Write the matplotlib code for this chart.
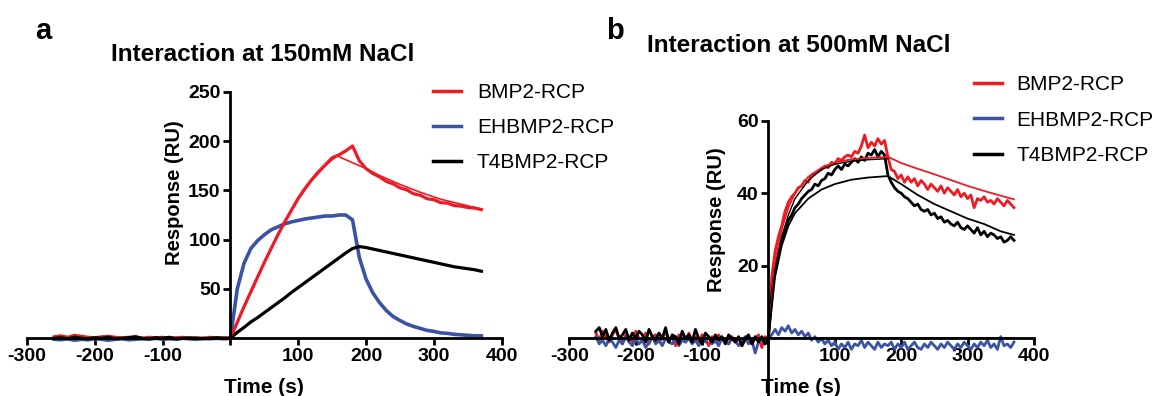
import numpy as np
import matplotlib
matplotlib.use('Agg')
from matplotlib import pyplot as plt

plt.rcParams['font.family'] = ['Liberation Sans', 'DejaVu Sans']

RED = '#ED1C24'
BLUE = '#3A53A4'
BLACK = '#000000'
names = ['BMP2-RCP', 'EHBMP2-RCP', 'T4BMP2-RCP']

# ---- panel a : 150 mM NaCl (10 s sampling) ----
ta = list(range(-260, 1, 10)) + list(range(10, 371, 10))
red_a = [1.5, 2.5, 1.0, 3.0, 2.0, 1.0, 0.5, 1.5, 2.0, 1.0,
         0.5, 1.0, 1.5, 0.0, 1.0, 0.5, 1.0, 0.0, 0.5, 1.0,
         -0.5, 0.5, 0.0, 1.0, 0.0, 0.5, 0.0,
         16, 32, 47, 62, 77, 91, 105, 118, 130, 142,
         152, 161, 169, 176, 183, 186, 190, 195, 180, 172,
         167, 163.5, 159, 156.5, 152.5, 150.5, 146.5, 145, 141.5, 140.5,
         137.5, 137, 134.5, 134, 132.5, 132, 130.5]
blue_a = [-1.0, -1.5, -0.5, -2.0, -1.0, -1.5, -0.5, -1.0, -2.0, -1.0,
          -0.5, -1.5, -1.0, -0.5, -1.0, 0.0, -1.0, -0.5, -1.0, 0.0,
          -0.5, -1.0, 0.0, -0.5, 0.0, -0.5, 0.0,
          50, 76, 91, 99, 105, 110, 113, 116, 118, 119.5,
          121, 122, 123, 124, 124, 125, 125, 120, 82, 60,
          46, 36, 28, 22, 18, 14.5, 12, 10, 8, 7,
          5.5, 5, 4, 3.5, 3, 2.5, 2.5]
black_a = [0.0, 0.5, -0.5, 1.0, 0.0, -0.5, 0.5, 0.0, 1.0, -0.5,
           0.0, 0.5, 1.5, 0.0, -0.5, 0.5, 0.0, 1.0, -0.5, 0.0,
           0.5, 0.0, -0.5, 0.0, 0.5, 0.0, 0.0,
           6, 11, 16.5, 21, 26, 31, 36, 41, 46.5, 51.5,
           56.5, 61.5, 66.5, 71.5, 76.5, 81.5, 86.5, 91, 93, 92,
           90.5, 89, 87.5, 86, 84.5, 83, 81.5, 80, 78.5, 77,
           75.5, 74, 72.5, 71.5, 70.5, 69.5, 68]
fit_red_a_t = [0, 20, 40, 60, 80, 100, 120, 140, 157, 180, 200, 220, 250, 280, 310, 340, 370]
fit_red_a = [0, 33, 63, 91, 117, 141, 160, 175, 185, 178, 172, 165, 156, 148, 141, 136, 131]

# ---- panel b : 500 mM NaCl (5 s sampling) ----
tb = list(range(-260, 1, 5)) + list(range(5, 371, 5))
red_b = [1.5, -0.5, 2.0, 0.5, -1.0, 1.0, 2.5, 0.0, -1.5, 1.0,
         0.5, -1.0, 2.0, 0.0, -0.5, 1.5, -1.5, 0.5, 1.0, -1.0,
         0.0, 2.0, -0.5, 0.5, -2.0, 1.0, 0.0, -1.0, 1.5, -0.5,
         0.5, -1.5, 1.0, 0.0, -2.0, 0.5, -1.0, 1.0, -0.5, 0.0,
         -1.5, 0.5, -1.0, 0.0, -2.0, -0.5, 0.5, -1.5, 0.0, 1.0,
         -2.5, 0.5, 0.0,
         17, 24, 28, 31, 35, 37.5, 39, 40, 41.5, 42,
         43.5, 43, 45, 45.5, 46, 46.5, 47.5, 47, 48.5, 48,
         49.5, 49, 50, 50.5, 50, 51.5, 51, 53, 56, 52.5,
         54, 53, 55, 53.5, 54.5, 50, 46.5, 46, 44, 45,
         43, 44.5, 43, 44, 42, 43.5, 42.5, 41, 42.5, 41.5,
         40.5, 42, 40, 41.5, 40.5, 39.5, 41, 39, 40, 38.5,
         39.5, 36, 38.5, 38, 39, 37.5, 38, 37, 38.5, 37.5,
         36.5, 38, 37, 36]
blue_b = [0.5, -1.5, -0.5, -2.0, 0.0, -1.0, -2.5, -0.5, -1.5, 0.5,
          -1.0, -2.0, 0.0, -1.5, -0.5, -2.5, -1.0, 0.5, -1.5, -0.5,
          -2.0, 0.0, -1.0, -1.5, 0.5, -2.0, -0.5, -1.0, 0.0, -1.5,
          -0.5, -2.0, 0.0, -1.0, 0.5, -1.5, -0.5, -2.0, 0.0, -1.0,
          -1.5, 0.0, -0.5, -2.0, -1.0, 0.5, -1.5, -0.5, -4.0, -1.0,
          0.0, -1.5, 0.0,
          1, 2.5, 1, 3, 2, 3.5, 1.5, 2.5, 1, 2,
          0.5, 1.5, -0.5, 0.5, -1, 0, -1.5, -0.5, -2, -1,
          -3, -1.5, -2.5, -1, -3, -1.5, -2, -0.5, -2.5, -1,
          -2, -3, -1, -2.5, -1.5, -2, -1, -3, -1.5, -2.5,
          -1, -3, -2, -1, -2.5, -3, -1.5, -2.5, -1, -2,
          -3, -1.5, -2.5, -1, -2, -3, -1.5, -2.5, -1, -2,
          -3, -1.5, -2.5, -1, -2, -0.5, -2.5, -1.5, -3, 0.5,
          -2, -1.5, -2.5, -1]
black_b = [2.0, 3.0, 0.5, 2.5, -0.5, 1.5, 3.0, 0.0, 1.0, 2.5,
           -0.5, 1.5, 0.0, 2.0, 1.0, -1.0, 2.5, 0.5, -0.5, 1.5,
           0.0, 3.0, -1.0, 1.0, 0.5, -1.5, 2.0, 0.0, 1.0, -1.0,
           2.5, 0.0, -1.5, 1.5, 0.5, -1.0, 1.0, -0.5, 0.5, -1.5,
           1.0, 0.0, -1.0, 0.5, -2.0, 0.0, 1.0, -1.5, 0.5, -1.0,
           0.5, -1.5, 0.0,
           12, 19, 23, 27, 30, 32.5, 34, 36, 37, 38.5,
           39.5, 40.5, 41, 42.5, 42, 43.5, 44, 45.5, 45, 46.5,
           47.5, 46.5, 48, 47.5, 48.5, 49.5, 48.5, 50, 49, 51,
           50.5, 52, 50, 51.5, 50.5, 45, 43, 41.5, 40.5, 40,
           39, 38.5, 37.5, 36.5, 37, 35.5, 35, 35.5, 34, 34.5,
           33, 33.5, 32, 32.5, 31.5, 31, 32, 30.5, 30, 31,
           30, 29, 30.5, 28.5, 29.5, 28, 29, 28.5, 27.5, 28,
           26.5, 27, 28, 27]
fit_t_b = [0, 10, 20, 30, 40, 60, 80, 100, 125, 150, 180, 200, 225, 250, 275, 300, 325, 350, 370]
fit_red_b = [0, 21, 30, 36, 40, 44.5, 47, 48.5, 49.3, 49.7, 50, 48.3, 46.7, 45.2, 43.6, 42, 40.6, 39.3, 38.3]
fit_black_b = [0, 17, 25.5, 31, 34.5, 38.5, 41, 42.5, 43.7, 44.3, 44.7, 42.5, 39.5, 37, 35, 33, 31.5, 29.5, 28.5]
fit_black_b2_t = [0, 10, 20, 30, 40, 60, 80, 100, 125, 150, 180]
fit_black_b2 = [0, 19, 28, 34, 38.5, 43.5, 46.5, 48, 48.8, 49.2, 49.5]
fit_blue_b_t = [0, 370]
fit_blue_b = [0, 0]

xticks = [-300, -200, -100, 0, 100, 200, 300, 400]
xtick_labels = ['-300', '-200', '-100', '', '100', '200', '300', '400']

W, H = 1157, 396
def fx(px):
    return px / W
def fy(py):
    return 1 - py / H

fig = plt.figure(figsize=(11.57, 3.96), dpi=100)


def style(ax, ylim, yticks, spine_bottom):
    ax.set_xlim(-300, 400)
    ax.set_ylim(*ylim)
    ax.patch.set_visible(False)
    ax.spines['top'].set_visible(False)
    ax.spines['right'].set_visible(False)
    ax.spines['left'].set_position(('data', 0))
    ax.spines['bottom'].set_position(('data', 0))
    ax.spines['bottom'].set_bounds(-300, 400)
    ax.spines['left'].set_bounds(spine_bottom, yticks[-1])
    for s in ['left', 'bottom']:
        ax.spines[s].set_linewidth(2)
    ax.set_xticks(xticks)
    ax.set_xticklabels(xtick_labels, fontsize=14, fontweight='bold')
    ax.set_yticks(yticks)
    ax.set_yticklabels([str(v) for v in yticks], fontsize=14, fontweight='bold')
    ax.tick_params(direction='out', length=5, width=2, pad=2)


# panel a
ax1 = fig.add_axes([0.02334, 0.1308, 0.4103, 0.6376])
ax1.plot(ta, blue_a, color=BLUE, lw=2.6, label=names[1])
ax1.plot(ta, red_a, color=RED, lw=2.3, label=names[0])
ax1.plot(ta, black_a, color=BLACK, lw=2.3, label=names[2])
ax1.plot(fit_red_a_t, fit_red_a, color=RED, lw=1.2)
style(ax1, (-6, 250), [50, 100, 150, 200, 250], 0)
h, l = ax1.get_legend_handles_labels()
order = [1, 0, 2]
leg1 = ax1.legend([h[i] for i in order], [l[i] for i in order], loc='upper left',
                  bbox_to_anchor=(fx(432.7), fy(83)), bbox_transform=fig.transFigure,
                  frameon=False, fontsize=15, handlelength=1.35, handletextpad=0.77,
                  labelspacing=0.78, borderpad=0, borderaxespad=0)
for ln in leg1.get_lines():
    ln.set_linewidth(2.5)

fig.text(fx(35), fy(39), 'a', fontsize=21, fontweight='bold', va='baseline')
fig.text(fx(262.7), fy(54.5), 'Interaction at 150mM NaCl', fontsize=17.5,
         fontweight='bold', ha='center', va='center')
fig.text(fx(175), fy(192.5), 'Response (RU)', fontsize=14.5, fontweight='bold',
         rotation=90, ha='center', va='center')
fig.text(fx(263.6), fy(393), 'Time (s)', fontsize=15, fontweight='bold',
         ha='center', va='baseline')

# panel b
ax2 = fig.add_axes([0.4921, -0.0015, 0.4015, 0.6972])
ax2.plot(tb, red_b, color=RED, lw=2.0, label=names[0])
ax2.plot(tb, blue_b, color=BLUE, lw=2.0, label=names[1])
ax2.plot(tb, black_b, color=BLACK, lw=2.0, label=names[2])
ax2.plot(fit_t_b, fit_red_b, color=RED, lw=1.3)
ax2.plot(fit_t_b, fit_black_b, color=BLACK, lw=1.3)
ax2.plot(fit_black_b2_t, fit_black_b2, color=BLACK, lw=1.0)
ax2.plot(fit_blue_b_t, fit_blue_b, color=BLUE, lw=1.3)
style(ax2, (-16, 60), [20, 40, 60], -16)
leg2 = ax2.legend(loc='upper left', bbox_to_anchor=(fx(974), fy(75.5)),
                  bbox_transform=fig.transFigure, frameon=False, fontsize=15,
                  handlelength=1.35, handletextpad=0.67, labelspacing=0.78,
                  borderpad=0, borderaxespad=0)
for ln in leg2.get_lines():
    ln.set_linewidth(2.5)

fig.text(fx(606), fy(39), 'b', fontsize=21, fontweight='bold', va='baseline')
fig.text(fx(799), fy(45), 'Interaction at 500mM NaCl', fontsize=17.5,
         fontweight='bold', ha='center', va='center')
fig.text(fx(716), fy(220), 'Response (RU)', fontsize=14.5, fontweight='bold',
         rotation=90, ha='center', va='center')
fig.text(fx(801), fy(393), 'Time (s)', fontsize=15, fontweight='bold',
         ha='center', va='baseline')

fig.savefig('out.png', dpi=100)
